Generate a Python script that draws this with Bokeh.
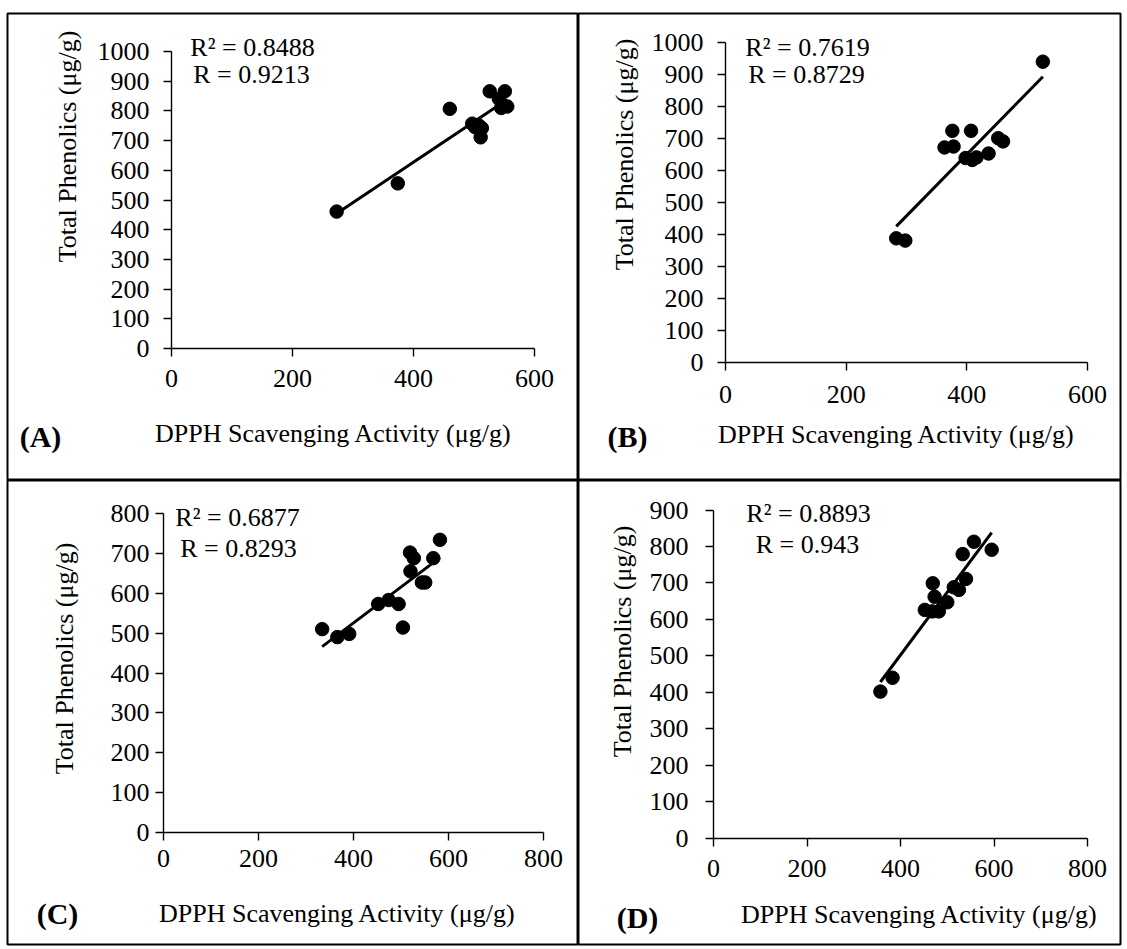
import numpy as np
from bokeh.plotting import figure
from bokeh.layouts import column, row
from bokeh.models import Range1d, Label, FixedTicker
from bokeh.embed import file_html
from bokeh.resources import INLINE

# ---------------- data ----------------
A_x = [273, 374, 460, 497, 502, 508, 513, 511, 526, 551, 541, 555, 545]
A_y = [461, 556, 807, 757, 745, 751, 742, 711, 866, 866, 841, 815, 810]
B_x = [526, 376, 407, 363, 378, 398, 409, 416, 436, 452, 460, 283, 298]
B_y = [940, 724, 724, 672, 675, 639, 633, 641, 653, 701, 691, 388, 381]
C_x = [582, 519, 527, 568, 520, 544, 551, 452, 474, 495, 504, 334, 366, 391]
C_y = [734, 702, 688, 688, 655, 627, 627, 573, 583, 573, 514, 510, 490, 498]
D_x = [557, 595, 533, 540, 469, 514, 525, 473, 500, 452, 468, 482, 383, 357]
D_y = [813, 791, 779, 711, 699, 688, 681, 662, 647, 626, 622, 622, 440, 402]

R2_text = ["R² = 0.8488", "R² = 0.7619", "R² = 0.6877", "R² = 0.8893"]
R_text = ["R = 0.9213", "R = 0.8729", "R = 0.8293", "R = 0.943"]
panel_tags = ["(A)", "(B)", "(C)", "(D)"]
x_max = [600, 600, 800, 800]
y_max = [1000, 1000, 800, 900]
x_title = "DPPH Scavenging Activity (μg/g)"
y_title = "Total Phenolics (μg/g)"

FONT = "Liberation Serif"


def make_panel(i, xs, ys, cell, box, xmap, ymap, y_std, x_std, pos):
    """cell = (page left, page top, width, height) of the canvas,
    box = (L, R, T, B) page coordinates of the bordered panel (the frame),
    xmap = (pixel of x=0, pixel of x=max), ymap = (pixel of y=0, pixel of y=max)."""
    cx, cy, W, H = cell
    L, R, T, B = box
    sx = (xmap[1] - xmap[0]) / x_max[i]
    sy = (ymap[0] - ymap[1]) / y_max[i]
    xr = Range1d((L - xmap[0]) / sx, (R - xmap[0]) / sx)
    yr = Range1d((ymap[0] - B) / sy, (ymap[0] - T) / sy)
    p = figure(width=W, height=H, output_backend="svg", toolbar_location=None,
               x_range=xr, y_range=yr,
               min_border_left=int(round(L - cx)), min_border_right=int(round(cx + W - R)),
               min_border_top=int(round(T - cy)), min_border_bottom=int(round(cy + H - B)))
    p.xgrid.visible = False
    p.ygrid.visible = False
    p.outline_line_color = "black"
    p.outline_line_width = 2
    p.background_fill_color = "white"
    p.border_fill_color = "white"
    p.xaxis.ticker = FixedTicker(ticks=list(range(0, x_max[i] + 1, 200)))
    p.yaxis.ticker = FixedTicker(ticks=list(range(0, y_max[i] + 1, 100)))
    p.xaxis.bounds = (0, x_max[i])
    p.yaxis.bounds = (0, y_max[i])
    p.xaxis.fixed_location = 0
    p.yaxis.fixed_location = 0
    for ax, std in ((p.xaxis, x_std), (p.yaxis, y_std)):
        ax.minor_tick_line_color = None
        ax.major_tick_in = 0
        ax.major_tick_out = 8
        ax.axis_line_width = 1.4
        ax.major_tick_line_width = 1.4
        ax.axis_line_color = "black"
        ax.major_tick_line_color = "black"
        ax.major_label_text_font = FONT
        ax.major_label_text_font_size = "26px"
        ax.major_label_text_color = "black"
        ax.major_label_standoff = std

    # linear trendline (least squares on the data, over the data's x extent)
    k, b = np.polyfit(xs, ys, 1)
    lx = [min(xs), max(xs)]
    p.line(lx, [k * v + b for v in lx], line_color="black", line_width=3)
    p.scatter(xs, ys, size=13.5, marker="circle", fill_color="black", line_color="black")

    def txt(X, Y, text, size="26px", bold=False, angle=0.0):
        p.add_layout(Label(x=X - L, y=B - Y, x_units="screen", y_units="screen",
                           text=text, text_font=FONT, text_font_size=size,
                           text_font_style="bold" if bold else "normal",
                           text_align="center", text_baseline="middle", angle=angle,
                           text_color="black"))

    (r2x, r2y), (rx, ry), (xtx, xty), (ytx, yty), (tgx, tgy) = pos
    txt(r2x, r2y, R2_text[i])
    txt(rx, ry, R_text[i])
    txt(xtx, xty, x_title)
    txt(ytx, yty, y_title, angle=np.pi / 2)
    txt(tgx, tgy, panel_tags[i], size="30px", bold=True)
    return p


pA = make_panel(0, A_x, A_y, (0, 0, 578, 480), (7, 578, 13, 480),
                (171, 534), (348, 51), 14, 13,
                [(252, 47), (251, 73.5), (333, 433), (67, 146), (40, 436)])
pB = make_panel(1, B_x, B_y, (578, 0, 549, 480), (578, 1120, 13, 480),
                (725, 1087), (362, 42), 14, 15,
                [(807, 46.5), (806, 74), (896, 434), (624, 154), (627, 436)])
pC = make_panel(2, C_x, C_y, (0, 480, 578, 469), (7, 578, 480, 944),
                (163, 543), (832, 513), 6, 9,
                [(237, 516.5), (238, 548), (337, 913), (64, 658), (57, 913)])
pD = make_panel(3, D_x, D_y, (578, 480, 549, 469), (578, 1120, 480, 944),
                (713, 1087), (837.7, 509.5), 17, 14,
                [(808, 512.5), (807, 543.5), (919, 914), (622, 641), (637, 917)])

layout = column(row(pA, pB), row(pC, pD))
open("out.html", "w").write(file_html(layout, INLINE))
